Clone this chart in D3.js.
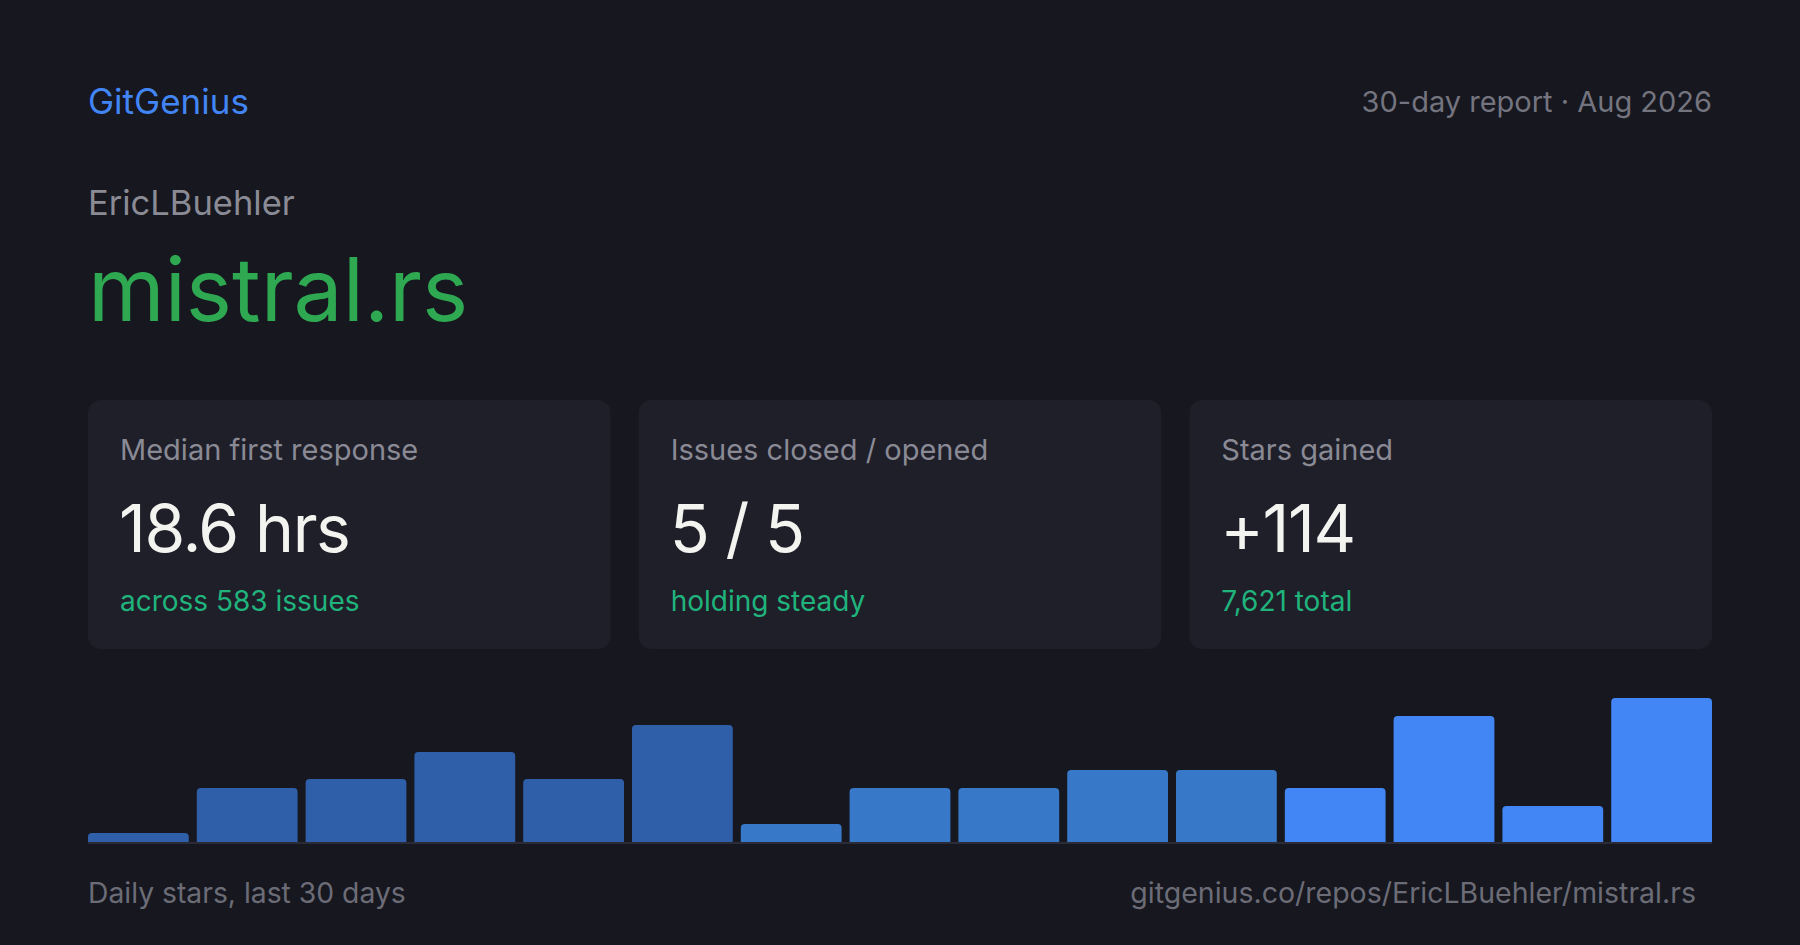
<!DOCTYPE html>
<html>
<head>
<meta charset="utf-8">
<script src="https://cdn.jsdelivr.net/npm/d3@7"></script>
<style>
  html, body { margin: 0; padding: 0; background: #16171f; }
  svg { display: block; }
  text { font-family: Inter, "Noto Sans", sans-serif; }
</style>
</head>
<body>
<svg id="chart" width="1800" height="945"></svg>
<script>
// ---- data ----
const brand = "GitGenius";
const reportLabel = "30-day report · Aug 2026";
const owner = "EricLBuehler";
const repo = "mistral.rs";
const cardLabels = ["Median first response", "Issues closed / opened", "Stars gained"];
const cardValues = ["18.6 hrs", "5 / 5", "+114"];
const cardNotes = ["across 583 issues", "holding steady", "7,621 total"];
const dailyStars = [1, 6, 7, 10, 7, 13, 2, 6, 6, 8, 8, 6, 14, 4, 16];
const footerLeft = "Daily stars, last 30 days";
const footerRight = "gitgenius.co/repos/EricLBuehler/mistral.rs";

// ---- layout ----
const W = 1800, H = 945;
const padL = 88, padR = 88;
const innerW = W - padL - padR;

const svg = d3.select("#chart");
svg.append("rect").attr("width", W).attr("height", H).attr("fill", "#16171f");

// header
svg.append("text").attr("x", padL).attr("y", 114)
  .attr("font-size", 35).attr("fill", "#4285f4").text(brand);
svg.append("text").attr("x", W - padR).attr("y", 112).attr("text-anchor", "end")
  .attr("font-size", 29).attr("fill", "#74747f").text(reportLabel);
svg.append("text").attr("x", padL).attr("y", 215)
  .attr("font-size", 34.5).attr("fill", "#8b8b95").text(owner);
svg.append("text").attr("x", padL).attr("y", 321)
  .attr("font-size", 87.5).attr("fill", "#2fa852").text(repo);

// cards
const cardGap = 28;
const cardW = (innerW - 2 * cardGap) / 3;
const cardTop = 400, cardH = 249;
const cardX = d3.scaleLinear().domain([0, 1]).range([padL, padL + cardW + cardGap]);
const cards = svg.selectAll("g.card").data(cardLabels.map((l, i) => ({ l, v: cardValues[i], n: cardNotes[i], i })))
  .join("g").attr("class", "card")
  .attr("transform", d => `translate(${cardX(d.i)},${cardTop})`);
cards.append("rect").attr("width", cardW).attr("height", cardH).attr("rx", 13).attr("fill", "#1f1f2a");
cards.append("text").attr("x", 32).attr("y", 60).attr("font-size", 29).attr("fill", "#8a8a95").text(d => d.l);
cards.append("text").attr("x", 31).attr("y", 152).attr("font-size", 66).attr("fill", "#f3f3ef").attr("letter-spacing", -1.4).text(d => d.v);
cards.append("text").attr("x", 32).attr("y", 211).attr("font-size", 28).attr("fill", "#20b47c").text(d => d.n);

// bars
const baseY = 842, maxH = 144;
const x = d3.scaleBand().domain(d3.range(dailyStars.length)).range([padL, W - padR])
  .paddingInner(120 / 1632).paddingOuter(0);
const y = d3.scaleLinear().domain([0, d3.max(dailyStars)]).range([baseY, baseY - maxH]);
const shade = i => i < 6 ? "#2f5fa8" : i < 11 ? "#3778c9" : "#4285f4";
const r = 4;
function topRounded(x0, y0, w, h) {
  const rr = Math.min(r, h, w / 2);
  return `M${x0},${y0 + h}V${y0 + rr}Q${x0},${y0} ${x0 + rr},${y0}H${x0 + w - rr}Q${x0 + w},${y0} ${x0 + w},${y0 + rr}V${y0 + h}Z`;
}
svg.append("g").selectAll("path").data(dailyStars).join("path")
  .attr("d", (d, i) => topRounded(x(i), y(d), x.bandwidth(), baseY - y(d)))
  .attr("fill", (d, i) => shade(i));
svg.append("rect").attr("x", padL).attr("y", baseY).attr("width", innerW).attr("height", 2).attr("fill", "#2a2b37");

// footer
svg.append("text").attr("x", padL).attr("y", 903).attr("font-size", 28.3).attr("fill", "#6c6c77").text(footerLeft);
svg.append("text").attr("x", W - padR - 16).attr("y", 903).attr("text-anchor", "end")
  .attr("font-size", 28.5).attr("fill", "#6c6c77").text(footerRight);
</script>
</body>
</html>
